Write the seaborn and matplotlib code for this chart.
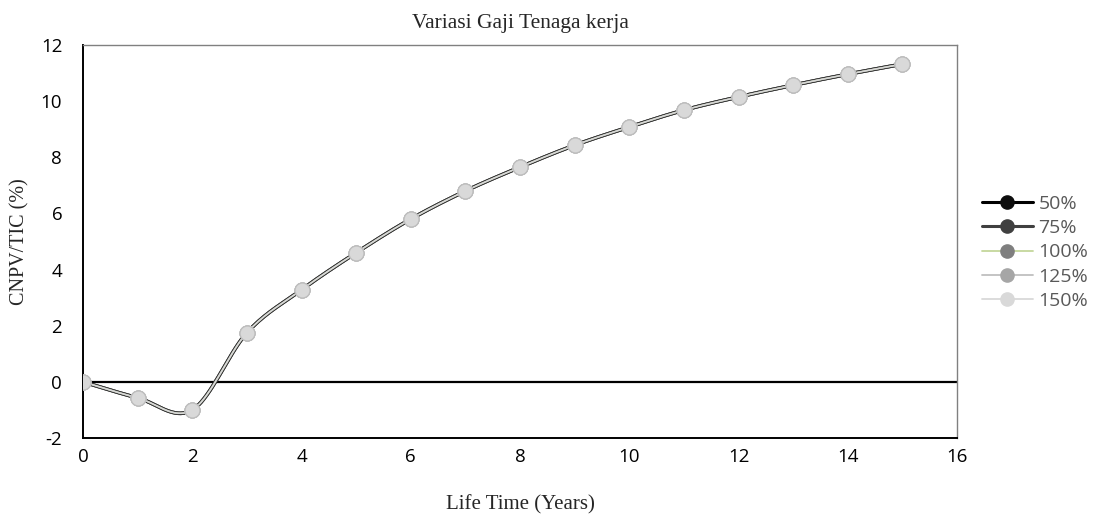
import numpy as np
import pandas as pd
import matplotlib
matplotlib.use("Agg")
import matplotlib.pyplot as plt
import seaborn as sns
from matplotlib.lines import Line2D

# Data (all five series coincide)
years = [0, 1, 2, 3, 4, 5, 6, 7, 8, 9, 10, 11, 12, 13, 14, 15]
cnpv_tic = [0.0, -0.57, -1.0, 1.75, 3.28, 4.6, 5.8, 6.8, 7.65, 8.43,
            9.08, 9.68, 10.15, 10.57, 10.96, 11.32]
series_names = ["50%", "75%", "100%", "125%", "150%"]
line_colors = ["#000000", "#404040", "#c4d79b", "#bfbfbf", "#d9d9d9"]
marker_colors = ["#0d0d0d", "#404040", "#7f7f7f", "#a6a6a6", "#d9d9d9"]
line_widths = [2.6, 2.6, 1.0, 1.0, 1.0]


def smooth_curve(x, y, n=20):
    """Excel-like smoothed line (Catmull-Rom through the points)."""
    x = np.asarray(x, float)
    y = np.asarray(y, float)
    px = np.concatenate([[x[0]], x, [x[-1]]])
    py = np.concatenate([[y[0]], y, [y[-1]]])
    xs, ys = [], []
    t = np.linspace(0, 1, n)
    for i in range(1, len(px) - 2):
        p0 = np.array([px[i], py[i]])
        p3 = np.array([px[i + 1], py[i + 1]])
        c1 = p0 + (np.array([px[i + 1], py[i + 1]]) - np.array([px[i - 1], py[i - 1]])) / 6
        c2 = p3 - (np.array([px[i + 2], py[i + 2]]) - np.array([px[i], py[i]])) / 6
        b = ((1 - t) ** 3)[:, None] * p0 + (3 * (1 - t) ** 2 * t)[:, None] * c1 \
            + (3 * (1 - t) * t ** 2)[:, None] * c2 + (t ** 3)[:, None] * p3
        xs.extend(b[:, 0])
        ys.extend(b[:, 1])
    return np.array(xs), np.array(ys)


sns.set_theme(style="white")
plt.rcParams['font.family'] = ['Open Sans', 'DejaVu Sans']
plt.rcParams['axes.unicode_minus'] = False
serif = ["Liberation Serif", "DejaVu Serif"]

fig = plt.figure(figsize=(11, 5.15), dpi=100)
ax = fig.add_axes([0.0755, 0.1495, 0.7945, 0.7631])

sx, sy = smooth_curve(years, cnpv_tic)
curve = pd.DataFrame({"x": sx, "y": sy})
pts = pd.DataFrame({"x": years, "y": cnpv_tic})

ax.axhline(0, color="black", lw=1.6, zorder=1)

for name, lc, lw in zip(series_names, line_colors, line_widths):
    sns.lineplot(data=curve, x="x", y="y", sort=False, color=lc, lw=lw,
                 ax=ax, zorder=2, estimator=None)
for name, mc in zip(series_names, marker_colors):
    sns.scatterplot(data=pts, x="x", y="y", color=mc, s=115,
                    edgecolor="#bdbdbd", linewidth=0.8, ax=ax, zorder=3)

ax.set_xlim(0, 16)
ax.set_ylim(-2, 12)
ax.set_xticks(range(0, 17, 2))
ax.set_yticks(range(-2, 13, 2))
ax.tick_params(axis="both", labelsize=13.5, length=0, colors="black")
ax.tick_params(axis="x", pad=7)
ax.tick_params(axis="y", pad=15)

for side in ["top", "right"]:
    ax.spines[side].set_color("#808080")
    ax.spines[side].set_linewidth(1.0)
for side in ["left", "bottom"]:
    ax.spines[side].set_color("black")
    ax.spines[side].set_linewidth(1.4)

ax.set_title("Variasi Gaji Tenaga kerja", fontsize=15.5, family=serif, pad=12)
ax.set_xlabel("Life Time (Years)", fontsize=15, family=serif, labelpad=21)
ax.set_ylabel("CNPV/TIC (%)", fontsize=14.5, family=serif, labelpad=8)

handles = [Line2D([0], [0], color=lc, lw=(2.2 if i < 2 else 1.3), marker="o",
                  markersize=9.5, markerfacecolor=mc, markeredgecolor=mc)
           for i, (lc, mc) in enumerate(zip(line_colors, marker_colors))]
leg = fig.legend(handles, series_names, loc="center left",
                 bbox_to_anchor=(0.877, 0.51), frameon=False, fontsize=14,
                 handlelength=2.6, handletextpad=0.3, labelspacing=0.32,
                 labelcolor="#595959")

fig.savefig("out.png", dpi=100)
